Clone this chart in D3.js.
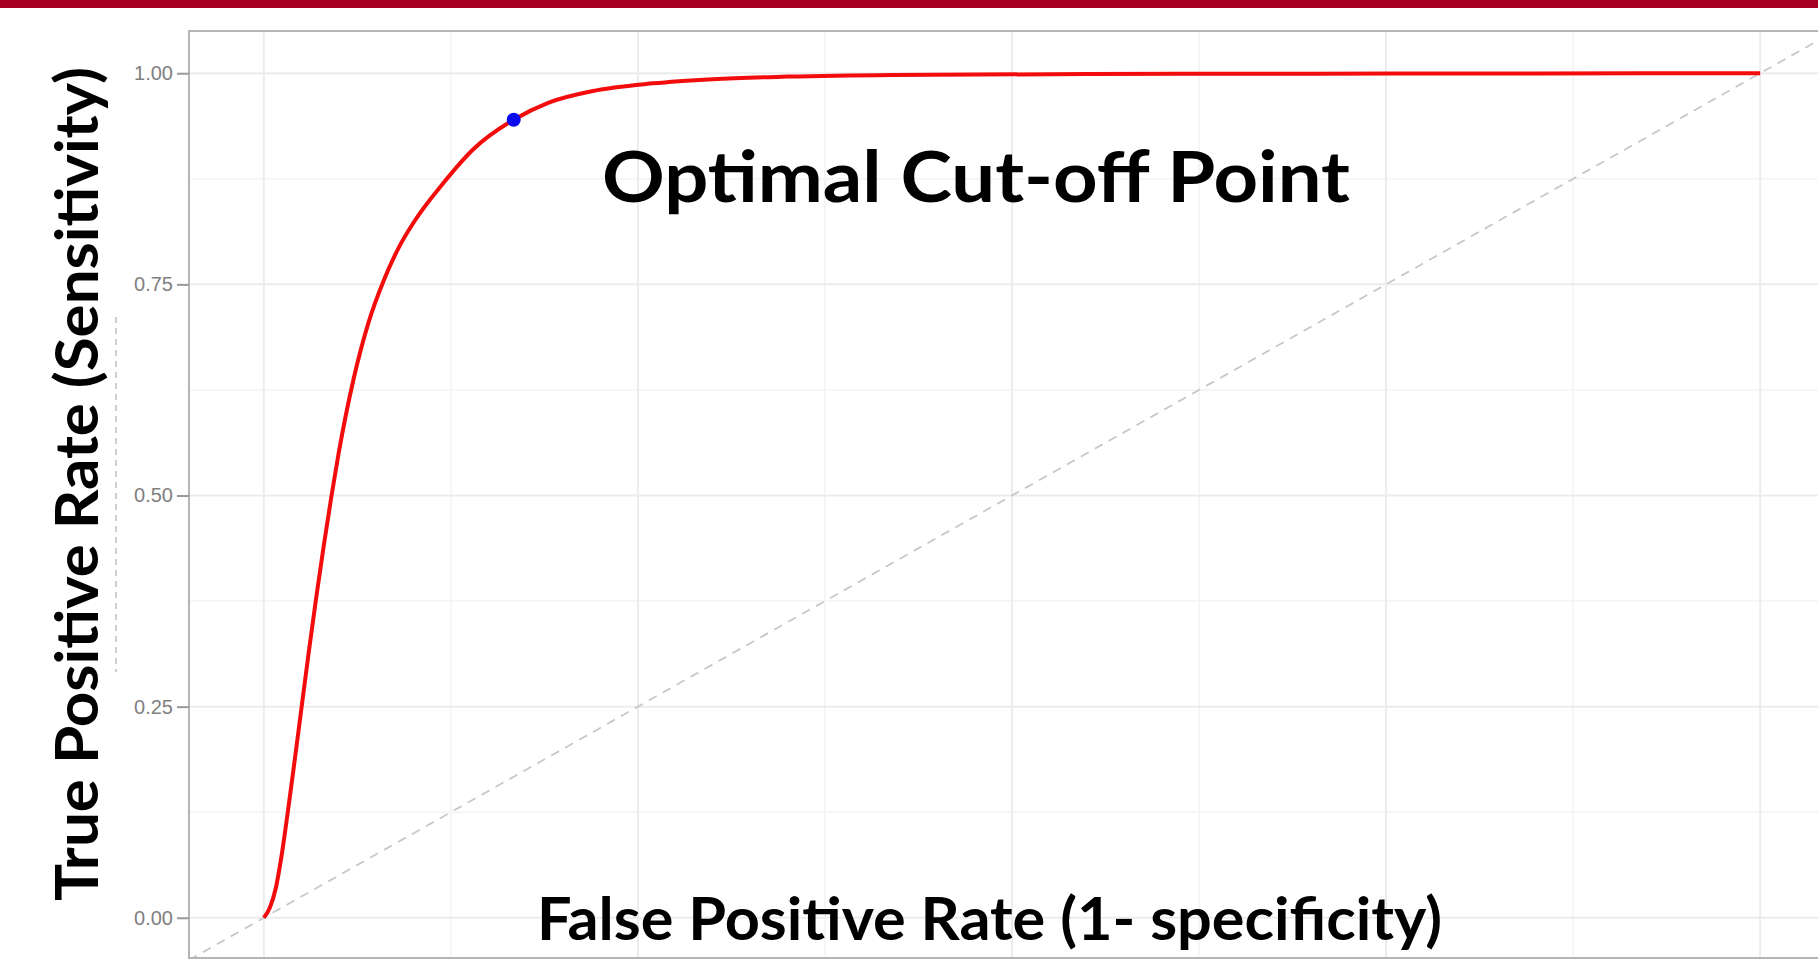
<!DOCTYPE html>
<html>
<head>
<meta charset="utf-8">
<script src="https://cdn.jsdelivr.net/npm/d3@7"></script>
<style>
  body { margin: 0; background: #fff; }
  .tick text { font-family: "Liberation Sans", Arial, sans-serif; }
  .big { font-family: Lato, "Open Sans", sans-serif; font-weight: 700; fill: #000; }
</style>
</head>
<body>
<div id="chart"></div>
<script>
// ROC curve
var fpr = [0, 0.004, 0.008, 0.012, 0.016, 0.02, 0.025, 0.03, 0.035, 0.04,
           0.045, 0.05, 0.06, 0.07, 0.08, 0.09, 0.10, 0.12, 0.14, 0.167,
           0.19, 0.22, 0.26, 0.30, 0.35, 0.42, 0.55, 0.70, 0.85, 1.0];
var tpr = [0, 0.012, 0.035, 0.075, 0.125, 0.178, 0.246, 0.314, 0.379, 0.44,
           0.497, 0.55, 0.638, 0.705, 0.754, 0.793, 0.823, 0.870, 0.910, 0.945,
           0.965, 0.979, 0.988, 0.993, 0.996, 0.998, 0.999, 0.9995, 0.9998, 1.0];

var cutoff = {fpr: 0.167, tpr: 0.945};

var yTicks = [0, 0.25, 0.5, 0.75, 1];
var majorBreaks = [0, 0.25, 0.5, 0.75, 1];
var minorBreaks = [0.125, 0.375, 0.625, 0.875];

var xTitle = "False Positive Rate (1- specificity)";
var yTitle = "True Positive Rate (Sensitivity)";
var noteText = "Optimal Cut-off Point";

var width = 1818, height = 960;
var panel = {left: 189, right: 1835, top: 31, bottom: 960};

var svg = d3.select("#chart").append("svg")
  .attr("width", width)
  .attr("height", height);

// top banner
svg.append("rect")
  .attr("x", 0).attr("y", 0)
  .attr("width", width).attr("height", 8)
  .attr("fill", "#a50021");

var x = d3.scaleLinear()
  .domain([-0.05, 1.05])
  .range([panel.left, panel.right]);

var y = d3.scaleLinear()
  .domain([-0.05, 1.05])
  .range([panel.bottom, panel.top]);

svg.append("clipPath").attr("id", "clip")
  .append("rect")
  .attr("x", panel.left).attr("y", panel.top)
  .attr("width", panel.right - panel.left)
  .attr("height", 958 - panel.top);

var grid = svg.append("g").attr("clip-path", "url(#clip)");

// minor grid
grid.selectAll(".minorX")
  .data(minorBreaks).enter().append("line")
  .attr("x1", d => x(d)).attr("x2", d => x(d))
  .attr("y1", panel.top).attr("y2", panel.bottom)
  .attr("stroke", "#f3f3f3").attr("stroke-width", 1.5);
grid.selectAll(".minorY")
  .data(minorBreaks).enter().append("line")
  .attr("y1", d => y(d)).attr("y2", d => y(d))
  .attr("x1", panel.left).attr("x2", panel.right)
  .attr("stroke", "#f3f3f3").attr("stroke-width", 1.5);

// major grid
grid.selectAll(".majorX")
  .data(majorBreaks).enter().append("line")
  .attr("x1", d => x(d)).attr("x2", d => x(d))
  .attr("y1", panel.top).attr("y2", panel.bottom)
  .attr("stroke", "#ececec").attr("stroke-width", 2);
grid.selectAll(".majorY")
  .data(majorBreaks).enter().append("line")
  .attr("y1", d => y(d)).attr("y2", d => y(d))
  .attr("x1", panel.left).attr("x2", panel.right)
  .attr("stroke", "#ececec").attr("stroke-width", 2);

// reference diagonal
grid.append("line")
  .attr("x1", x(-0.05)).attr("y1", y(-0.05))
  .attr("x2", x(1.05)).attr("y2", y(1.05))
  .attr("stroke", "#c8c8c8")
  .attr("stroke-width", 1.8)
  .attr("stroke-dasharray", "9,7");

// roc curve
var rocData = fpr.map((d, i) => ({fpr: d, tpr: tpr[i]}));
var line = d3.line()
  .x(d => x(d.fpr))
  .y(d => y(d.tpr))
  .curve(d3.curveMonotoneX);

grid.append("path")
  .datum(rocData)
  .attr("d", line)
  .attr("fill", "none")
  .attr("stroke", "#f20c0c")
  .attr("stroke-width", 4)
  .attr("stroke-linejoin", "round");

grid.append("circle")
  .attr("cx", x(cutoff.fpr))
  .attr("cy", y(cutoff.tpr))
  .attr("r", 7)
  .attr("fill", "#0a0aee");

// panel border
svg.append("rect")
  .attr("x", panel.left).attr("y", panel.top)
  .attr("width", panel.right - panel.left)
  .attr("height", 958 - panel.top)
  .attr("fill", "none")
  .attr("stroke", "#b5b5b5")
  .attr("stroke-width", 2);

// y axis
var yAxis = svg.append("g")
  .attr("transform", "translate(" + panel.left + ",0)")
  .call(d3.axisLeft(y)
    .tickValues(yTicks)
    .tickFormat(d3.format(".2f"))
    .tickSize(12)
    .tickPadding(4));
yAxis.select(".domain").remove();
yAxis.selectAll(".tick line").attr("stroke", "#999").attr("stroke-width", 2);
yAxis.selectAll(".tick text")
  .attr("fill", "#808080")
  .style("font-size", "20px");

// ghost of an old axis title
svg.append("line")
  .attr("x1", 116).attr("x2", 116)
  .attr("y1", 317).attr("y2", 672)
  .attr("stroke", "#b0b0b0")
  .attr("stroke-width", 1.2)
  .attr("stroke-dasharray", "6,5");

// big labels
svg.append("text")
  .attr("class", "big")
  .attr("x", 602).attr("y", 202)
  .attr("textLength", 748)
  .attr("lengthAdjust", "spacingAndGlyphs")
  .style("font-size", "71px")
  .text(noteText);

svg.append("text")
  .attr("class", "big")
  .attr("x", 537).attr("y", 940)
  .attr("textLength", 905)
  .attr("lengthAdjust", "spacingAndGlyphs")
  .style("font-size", "60px")
  .text(xTitle);

svg.append("text")
  .attr("class", "big")
  .attr("transform", "translate(98,901) rotate(-90)")
  .attr("textLength", 834)
  .attr("lengthAdjust", "spacingAndGlyphs")
  .style("font-size", "60px")
  .text(yTitle);
</script>
</body>
</html>
